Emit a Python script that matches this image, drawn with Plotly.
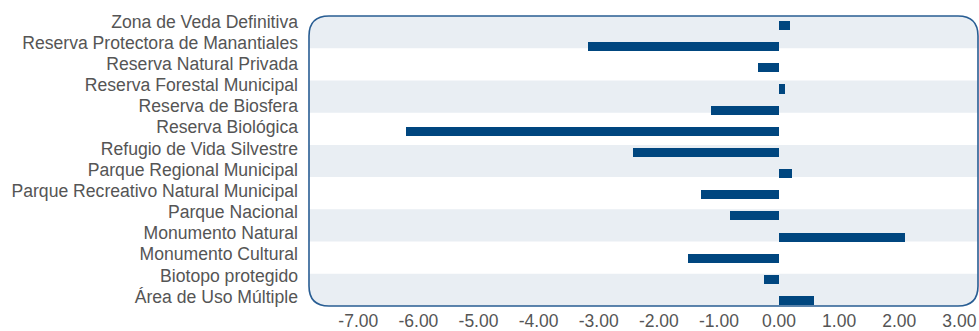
import plotly.graph_objects as go

# categories listed bottom -> top (plotly draws the first category at the bottom)
categories = [
    "Área de Uso Múltiple",
    "Biotopo protegido",
    "Monumento Cultural",
    "Monumento Natural",
    "Parque Nacional",
    "Parque Recreativo Natural Municipal",
    "Parque Regional Municipal",
    "Refugio de Vida Silvestre",
    "Reserva Biológica",
    "Reserva de Biosfera",
    "Reserva Forestal Municipal",
    "Reserva Natural Privada",
    "Reserva Protectora de Manantiales",
    "Zona de Veda Definitiva",
]
values = [0.58, -0.25, -1.51, 2.10, -0.82, -1.30, 0.22, -2.43, -6.20, -1.13, 0.10, -0.35, -3.18, 0.19]

x_ticks = [-7, -6, -5, -4, -3, -2, -1, 0, 1, 2, 3]
x_tick_text = ["%.2f" % v for v in x_ticks]

W, H = 979, 331
ML, MR, MT, MB = 309, 1, 16, 25
pw, ph = W - ML - MR, H - MT - MB

BAR = "#00467f"
BAND = "#e9eef3"
BORDER = "#285d93"
TXT = "#555555"

fig = go.Figure(go.Bar(
    y=categories, x=values, orientation="h",
    marker=dict(color=BAR, line=dict(width=0)),
    width=0.43,
))

# rounded rect path in paper coords (radius ~20px)
rx, ry = 20 / pw, 20 / ph


def rounded(x0, y0, x1, y1, top=True, bottom=True):
    tr = ry if top else 0
    br = ry if bottom else 0
    tx = rx if top else 0
    bx = rx if bottom else 0
    p = f"M {x0},{y0 + br} "
    p += f"L {x0},{y1 - tr} "
    p += f"Q {x0},{y1} {x0 + tx},{y1} " if top else ""
    p += f"L {x1 - tx},{y1} "
    p += f"Q {x1},{y1} {x1},{y1 - tr} " if top else ""
    p += f"L {x1},{y0 + br} "
    p += f"Q {x1},{y0} {x1 - bx},{y0} " if bottom else ""
    p += f"L {x0 + bx},{y0} "
    p += f"Q {x0},{y0} {x0},{y0 + br} " if bottom else ""
    return p + "Z"


# alternating background bands, clipped at the rounded corners
shapes = []
n_bands = 9
for i in range(n_bands):
    if i % 2:
        continue
    y1 = 1 - i / n_bands
    y0 = 1 - (i + 1) / n_bands
    shapes.append(dict(type="path", xref="paper", yref="paper", layer="below",
                       path=rounded(0, y0, 1, y1, top=(i == 0), bottom=(i == n_bands - 1)),
                       fillcolor=BAND, line=dict(width=0)))
shapes.append(dict(type="path", xref="paper", yref="paper", layer="above",
                   path=rounded(0, 0, 1, 1), line=dict(color=BORDER, width=1.6)))

fig.update_layout(
    width=W, height=H, autosize=False,
    margin=dict(l=ML, r=MR, t=MT, b=MB, pad=0),
    paper_bgcolor="white", plot_bgcolor="rgba(0,0,0,0)",
    showlegend=False, bargap=0,
    font=dict(family="Liberation Sans, Arial, sans-serif", color=TXT, size=17.5),
    shapes=shapes,
)
fig.update_xaxes(range=[-7.82, 3.31], tickvals=x_ticks, ticktext=x_tick_text,
                 showgrid=False, zeroline=False, showline=False, ticks="",
                 tickfont=dict(size=17.5, color=TXT), ticklabelstandoff=2,
                 automargin=False)
fig.update_yaxes(type="category", categoryorder="array", categoryarray=categories,
                 range=[-0.26, 13.45], showgrid=False, zeroline=False, showline=False,
                 ticks="", tickfont=dict(size=17.6, color=TXT), ticklabelstandoff=10,
                 ticklabelshift=-4, automargin=False)

fig.write_html("out.html", config={"displayModeBar": False},
               post_script="document.body.style.margin='0';")
